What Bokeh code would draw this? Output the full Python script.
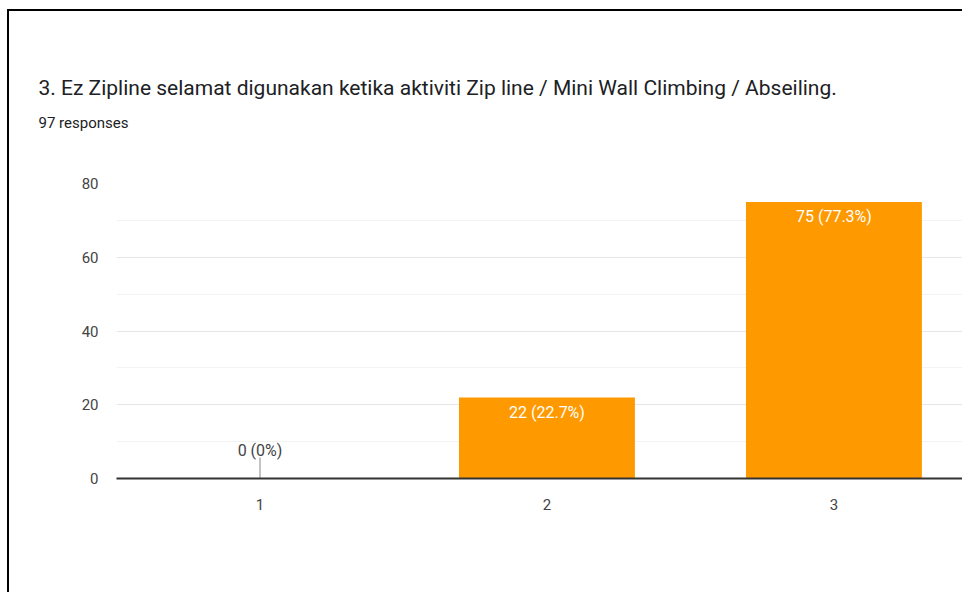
from bokeh.plotting import figure
from bokeh.models import Range1d, FixedTicker, Title, ColumnDataSource
from bokeh.embed import file_html
from bokeh.resources import INLINE
from bokeh.core.properties import value

title = "3. Ez Zipline selamat digunakan ketika aktiviti Zip line / Mini Wall Climbing / Abseiling."
subtitle = "97 responses"
categories = [1, 2, 3]
category_labels = ["1", "2", "3"]
counts = [0, 22, 75]
y_ticks = [0, 20, 40, 60, 80]

FONT = "Roboto"
ORANGE = "#ff9900"

total = sum(counts)
def pct(c):
    v = round(c * 100.0 / total, 1)
    return f"{int(v)}%" if v == int(v) else f"{v}%"
labels = [f"{c} ({pct(c)})" for c in counts]

W, H = 955, 583
p = figure(width=W, height=H, output_backend="svg", toolbar_location=None,
           x_range=Range1d(0.5, 3.455), y_range=Range1d(0, 80),
           min_border_left=107, min_border_top=172, min_border_bottom=116, min_border_right=0)
p.styles = {"margin-left": "7px", "margin-top": "9px",
            "border-left": "2px solid #000", "border-top": "2px solid #000"}
p.outline_line_color = None
p.background_fill_color = "white"
p.border_fill_color = "white"

src_bars = ColumnDataSource(dict(x=[c for c, v in zip(categories, counts) if v > 0],
                                 top=[v for v in counts if v > 0],
                                 label=[l for l, v in zip(labels, counts) if v > 0]))
src_zero = ColumnDataSource(dict(x=[c for c, v in zip(categories, counts) if v == 0],
                                 y=[v for v in counts if v == 0],
                                 label=[l for l, v in zip(labels, counts) if v == 0]))

p.vbar(x="x", top="top", width=0.613, bottom=0, source=src_bars, fill_color=ORANGE, line_color=None)
p.text(x="x", y="top", text="label", source=src_bars, text_color="white",
       text_font=value(FONT), text_font_size="16px", text_align="center",
       text_baseline="middle", y_offset=15)

# zero-value stem and label
p.scatter(x="x", y="y", source=src_zero, marker="dash", angle=1.5708, size=42,
          line_color="#b0b0b0", line_width=1.5)
p.text(x="x", y="y", text="label", source=src_zero, text_color="#444444",
       text_font=value(FONT), text_font_size="16px", text_align="center",
       text_baseline="middle", y_offset=-28)

# axes
p.xaxis.ticker = FixedTicker(ticks=categories)
p.xaxis.major_label_overrides = {c: l for c, l in zip(categories, category_labels)}
p.xaxis.axis_line_color = "#333333"
p.xaxis.axis_line_width = 2
p.xaxis.major_tick_line_color = None
p.xaxis.minor_tick_line_color = None
p.xaxis.major_label_standoff = 14
p.xaxis.major_label_text_font = FONT
p.xaxis.major_label_text_font_size = "15px"
p.xaxis.major_label_text_color = "#444444"

p.yaxis.ticker = FixedTicker(ticks=y_ticks, minor_ticks=[10, 30, 50, 70])
p.yaxis.axis_line_color = None
p.yaxis.major_tick_line_color = None
p.yaxis.minor_tick_line_color = None
p.yaxis.major_label_standoff = 12
p.yaxis.major_label_text_font = FONT
p.yaxis.major_label_text_font_size = "15px"
p.yaxis.major_label_text_color = "#444444"

p.xgrid.grid_line_color = None
p.ygrid.grid_line_color = "#e6e6e6"
p.ygrid.minor_grid_line_color = "#f3f3f3"

# "above" panels stack outward from the frame: spacer, subtitle, title
p.add_layout(Title(text=" ", align="left", standoff=39, text_font=FONT,
                   text_font_size="10px", text_color="white"), "above")
p.add_layout(Title(text=subtitle, align="left", offset=-78, standoff=0,
                   text_font=FONT, text_font_size="15px", text_color="#202124",
                   text_font_style="normal"), "above")
p.add_layout(Title(text=title, align="left", offset=-78, standoff=23,
                   text_font=FONT, text_font_size="21px", text_color="#202124",
                   text_font_style="normal"), "above")

open("out.html", "w").write(file_html(p, INLINE))
